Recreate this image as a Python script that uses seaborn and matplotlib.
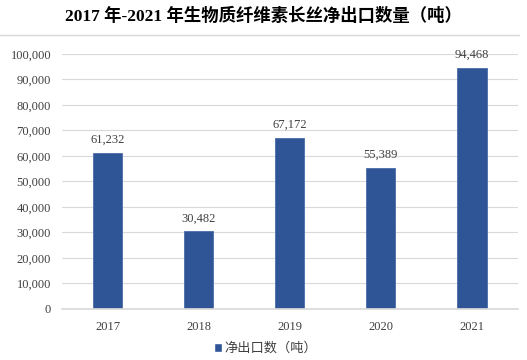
import pandas as pd
import seaborn as sns
import matplotlib.pyplot as plt
from matplotlib.lines import Line2D
from matplotlib.patches import Patch

years = ['2017', '2018', '2019', '2020', '2021']
net_export = [61232, 30482, 67172, 55389, 94468]
series_name = '净出口数（吨）'
title = '2017 年-2021 年生物质纤维素长丝净出口数量（吨）'

sns.set_theme(style='white')
plt.rcParams['font.family'] = ['Liberation Serif', 'Noto Sans CJK SC']

df = pd.DataFrame({'year': years, 'value': net_export})

fig = plt.figure(figsize=(5.27, 3.6), dpi=100)
ax = fig.add_axes([0.118, 0.142, 0.864, 0.708])

bar_color = '#2F5597'
sns.barplot(data=df, x='year', y='value', color=bar_color, width=0.32,
            saturation=1, edgecolor='#4a6ea8', linewidth=0.6, ax=ax)

ax.set_ylim(0, 100000)
ax.set_yticks(range(0, 100001, 10000))
ax.set_yticklabels([f'{v:,}' for v in range(0, 100001, 10000)])
ax.yaxis.grid(True, color='#d9d9d9', linewidth=0.8)
ax.set_axisbelow(True)
for s in ['top', 'right', 'left']:
    ax.spines[s].set_visible(False)
ax.spines['bottom'].set_color('#d9d9d9')
ax.tick_params(axis='both', length=0, labelsize=9, colors='#404040')
ax.tick_params(axis='x', pad=9)
ax.tick_params(axis='y', pad=8)
ax.set_xlabel('')
ax.set_ylabel('')

for i, v in enumerate(net_export):
    ax.text(i, v + 3900, f'{v:,}', ha='center', va='baseline',
            fontsize=9, color='#404040')

fig.text(0.5, 0.955, title, ha='center', va='center', fontsize=12.5,
         fontweight='bold', color='black')
fig.add_artist(Line2D([0.0, 0.985], [0.903, 0.903], color='#d9d9d9',
                      linewidth=1, transform=fig.transFigure))

handles = [Patch(facecolor=bar_color, label=series_name)]
leg = fig.legend(handles=handles, loc='center', bbox_to_anchor=(0.504, 0.032),
                 frameon=False, fontsize=9.5, handlelength=0.6, handleheight=0.6,
                 handletextpad=0.2)
for t in leg.get_texts():
    t.set_color('#404040')
    t.set_family(['Noto Sans CJK SC'])

fig.savefig('out.png', dpi=100)
